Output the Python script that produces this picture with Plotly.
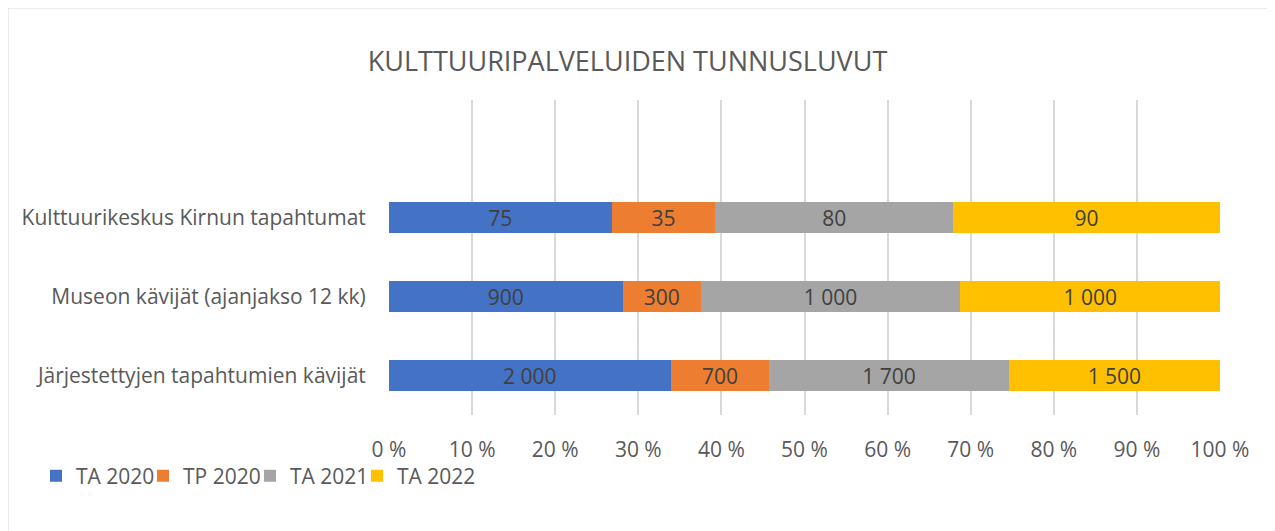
import plotly.graph_objects as go

categories = ["Järjestettyjen tapahtumien kävijät",
              "Museon kävijät (ajanjakso 12 kk)",
              "Kulttuurikeskus Kirnun tapahtumat"]
series_names = ["TA 2020", "TP 2020", "TA 2021", "TA 2022"]
ta2020 = [2000, 900, 75]
tp2020 = [700, 300, 35]
ta2021 = [1700, 1000, 80]
ta2022 = [1500, 1000, 90]
colors = ["#4472C4", "#ED7D31", "#A5A5A5", "#FFC000"]
tick_vals = [0, 10, 20, 30, 40, 50, 60, 70, 80, 90, 100]
tick_text = [f"{v} %" for v in tick_vals]

OFF = 8  # page body margin
W, H = 1275 - OFF, 531 - OFF
L, R, T, B = 389 - OFF, 1220 - OFF, 100 - OFF, 415 - OFF
FONT = "Open Sans"

def fmt(v):
    return f"{v:,}".replace(",", " ")

fig = go.Figure()
for name, vals, c in zip(series_names, [ta2020, tp2020, ta2021, ta2022], colors):
    fig.add_trace(go.Bar(
        y=categories, x=vals, name=name, orientation="h",
        marker=dict(color=c, line=dict(width=0)),
        width=0.4,
        text=[fmt(v) for v in vals], textposition="inside",
        insidetextanchor="middle", textangle=0,
        textfont=dict(family=FONT, size=21, color="#404040"),
        hoverinfo="skip",
    ))
# invisible spacer legend entry so the last real entry is not clipped
fig.add_trace(go.Bar(
    y=categories, x=[0, 0, 0], name=" ", orientation="h",
    marker=dict(color="rgba(0,0,0,0)", line=dict(width=0)),
    width=0.4, hoverinfo="skip", showlegend=True,
))

def px_x(p):
    return (p - OFF - L) / (R - L)

def px_y(p):
    return (B - (p - OFF)) / (B - T)

fig.update_layout(
    width=W, height=H,
    barmode="stack", barnorm="percent",
    paper_bgcolor="white", plot_bgcolor="white",
    margin=dict(l=L, r=W - R, t=T, b=H - B, pad=0),
    font=dict(family=FONT, color="#595959"),
    title=dict(text="KULTTUURIPALVELUIDEN TUNNUSLUVUT", x=(627.5 - OFF) / W, xanchor="center",
               y=1 - (62 - OFF) / H, yanchor="middle",
               font=dict(family=FONT, size=27, color="#595959")),
    xaxis=dict(range=[0, 100], tickvals=tick_vals, ticktext=tick_text,
               showgrid=True, gridcolor="#D9D9D9", gridwidth=2,
               zeroline=False, showline=False,
               ticks="outside", ticklen=16, tickcolor="rgba(0,0,0,0)",
               tickfont=dict(family=FONT, size=21, color="#595959"),
               fixedrange=True),
    yaxis=dict(type="category", range=[-0.5, 3.49], showgrid=False, zeroline=False,
               showline=False, ticks="outside", ticklen=18, tickcolor="rgba(0,0,0,0)",
               tickfont=dict(family=FONT, size=21, color="#595959"),
               fixedrange=True),
    showlegend=True,
    legend=dict(orientation="h", x=px_x(36), xanchor="left", y=px_y(476), yanchor="middle",
                font=dict(family=FONT, size=21, color="#595959"),
                entrywidth=62, entrywidthmode="pixels", traceorder="normal",
                itemwidth=30, bgcolor="rgba(0,0,0,0)"),
    uniformtext=dict(minsize=21, mode="show"),
    shapes=[dict(type="rect", xref="paper", yref="paper",
                 x0=px_x(7.5), x1=px_x(1290), y0=px_y(7.5), y1=px_y(545),
                 line=dict(color="#D9D9D9", width=2), layer="below")],
)

fig.write_html("out.html")
